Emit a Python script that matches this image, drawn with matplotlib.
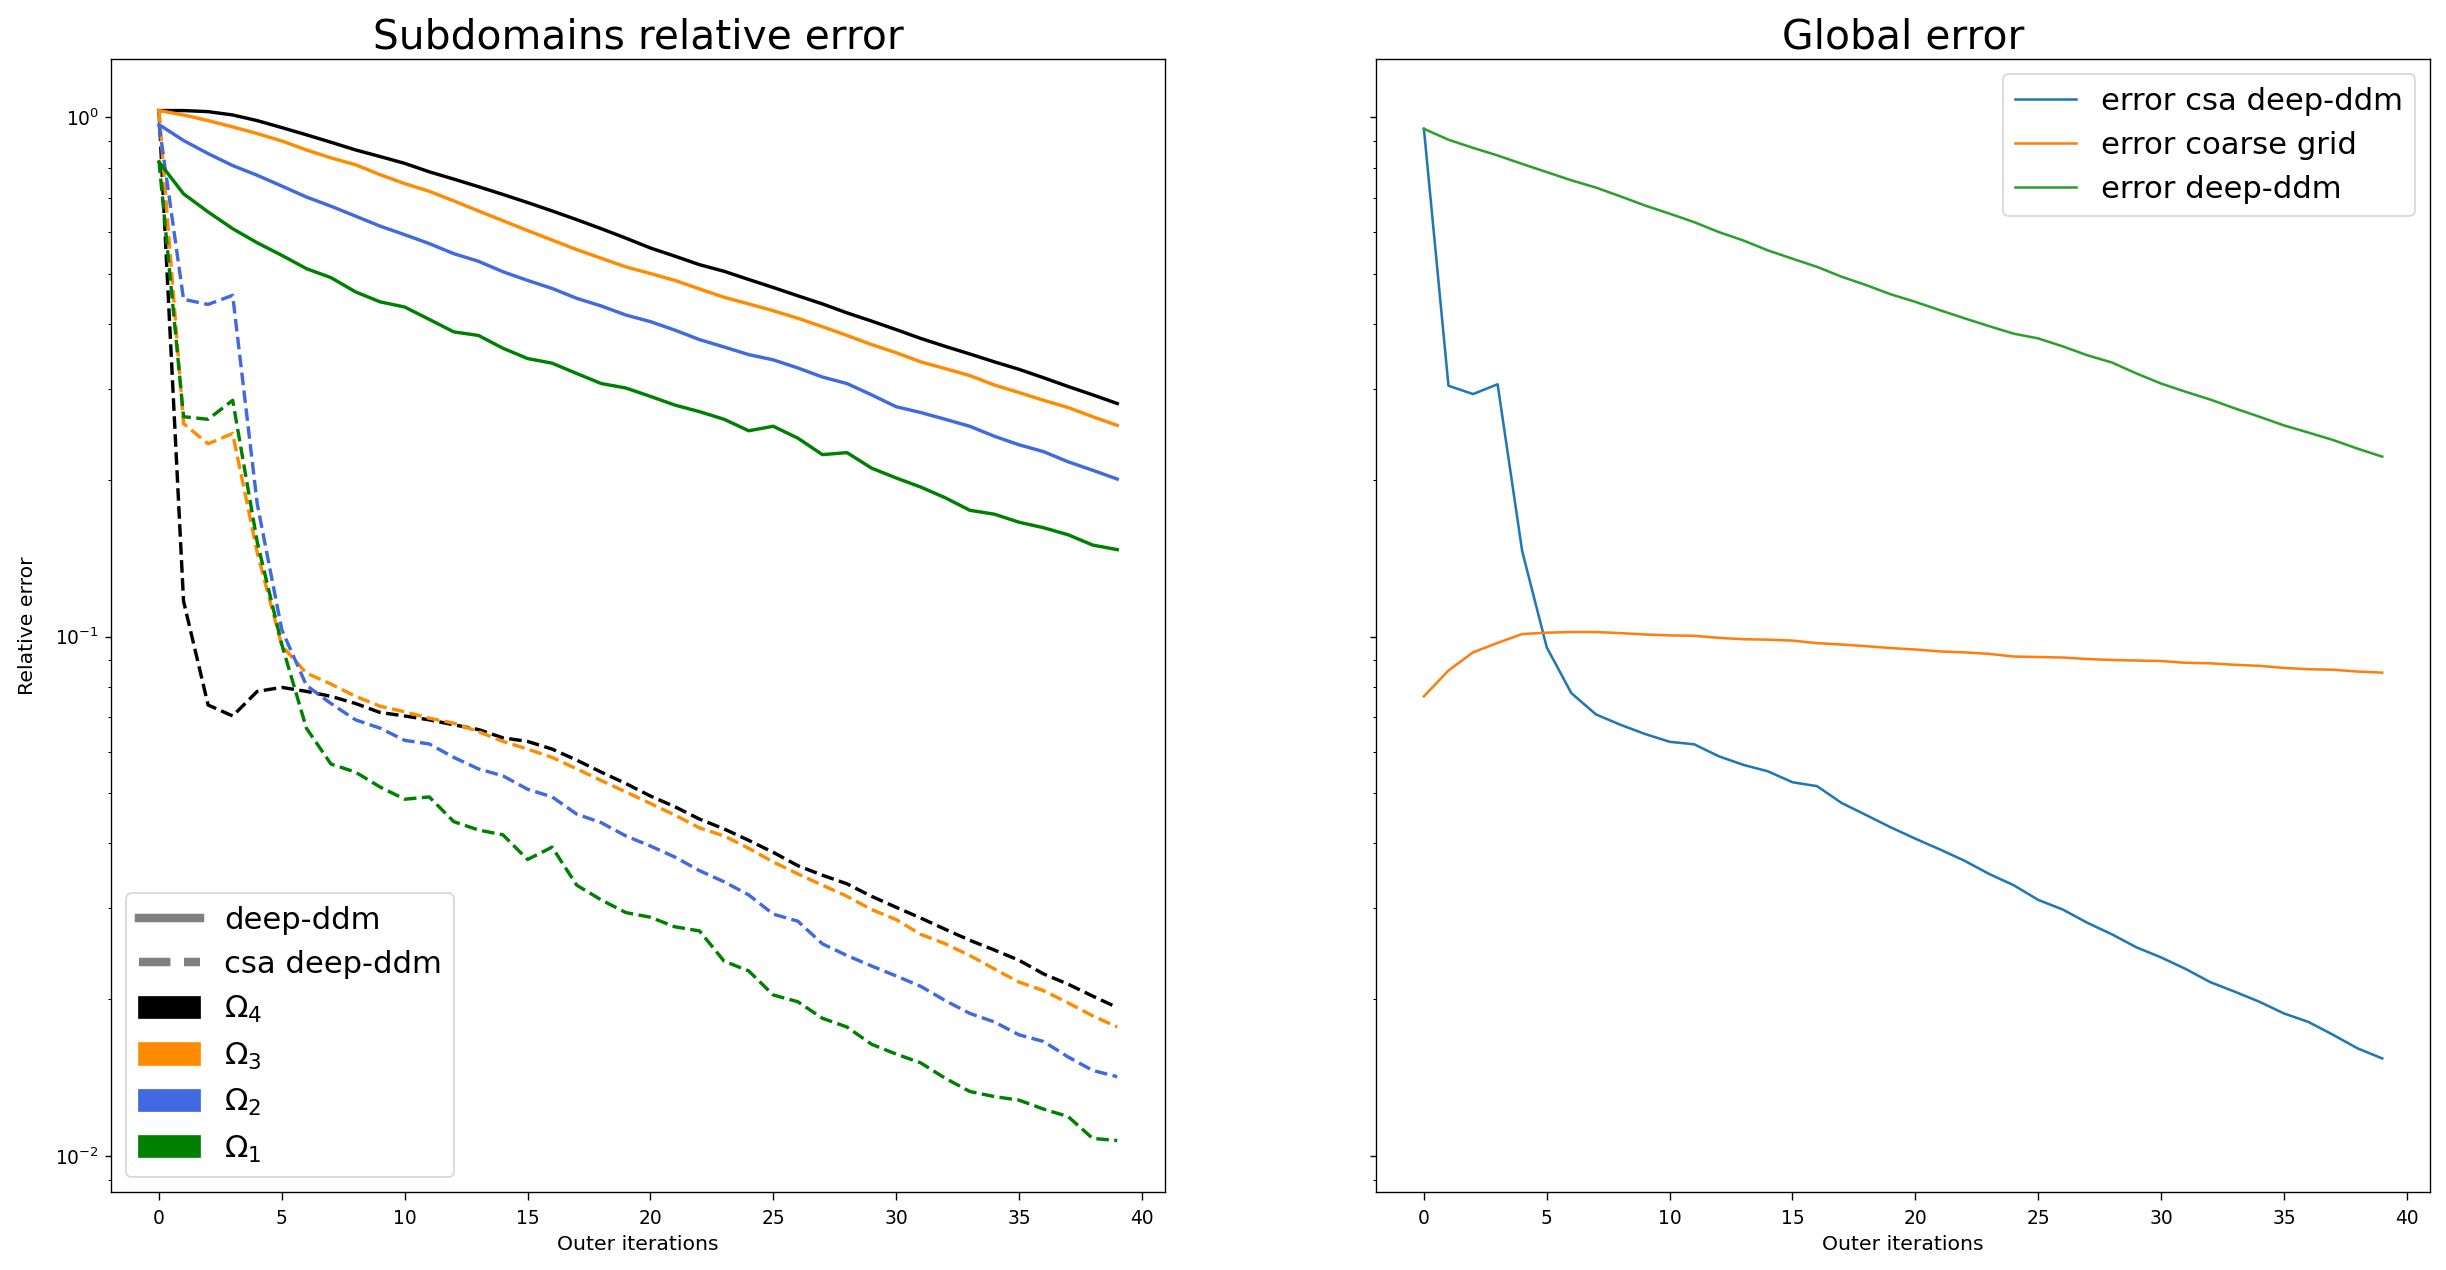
import numpy as np
import matplotlib
matplotlib.use('Agg')
import matplotlib.pyplot as plt
from matplotlib.lines import Line2D
from matplotlib.patches import Patch

iterations = np.arange(40)

# subdomain errors, deep-ddm (solid)
omega4_ddm = [1.03, 1.03, 1.025, 1.01, 0.985, 0.955, 0.925, 0.895, 0.865, 0.84,
              0.815, 0.785, 0.76, 0.735, 0.71, 0.685, 0.66, 0.635, 0.61, 0.585,
              0.56, 0.54, 0.52, 0.505, 0.487, 0.47, 0.453, 0.437, 0.42, 0.405,
              0.39, 0.375, 0.362, 0.35, 0.338, 0.327, 0.315, 0.303, 0.292, 0.281]
omega3_ddm = [1.03, 1.01, 0.985, 0.958, 0.93, 0.9, 0.865, 0.835, 0.81, 0.775,
              0.745, 0.72, 0.69, 0.66, 0.632, 0.605, 0.58, 0.556, 0.535, 0.515,
              0.5, 0.485, 0.467, 0.45, 0.437, 0.424, 0.41, 0.395, 0.38, 0.365,
              0.352, 0.338, 0.328, 0.318, 0.305, 0.295, 0.285, 0.276, 0.265, 0.255]
omega2_ddm = [0.968, 0.902, 0.851, 0.807, 0.773, 0.737, 0.702, 0.674, 0.645, 0.617,
              0.594, 0.571, 0.546, 0.528, 0.504, 0.485, 0.468, 0.448, 0.433, 0.416,
              0.404, 0.389, 0.373, 0.361, 0.349, 0.341, 0.329, 0.316, 0.307, 0.292,
              0.277, 0.270, 0.262, 0.254, 0.243, 0.234, 0.227, 0.217, 0.209, 0.201]
omega1_ddm = [0.82, 0.712, 0.657, 0.610, 0.573, 0.542, 0.511, 0.491, 0.461, 0.441,
              0.431, 0.408, 0.386, 0.380, 0.359, 0.343, 0.336, 0.321, 0.307, 0.301,
              0.290, 0.279, 0.271, 0.262, 0.249, 0.254, 0.241, 0.224, 0.226, 0.211,
              0.202, 0.194, 0.185, 0.175, 0.172, 0.166, 0.162, 0.157, 0.150, 0.147]

# subdomain errors, csa deep-ddm (dashed)
omega4_csa = [1.03, 0.117, 0.0738, 0.0703, 0.0784, 0.0798, 0.0784, 0.0767, 0.0743, 0.0714,
              0.0703, 0.0691, 0.0676, 0.0662, 0.0638, 0.0628, 0.0607, 0.0578, 0.0548, 0.0521,
              0.0493, 0.0470, 0.0445, 0.0426, 0.0405, 0.0384, 0.0362, 0.0347, 0.0334, 0.0316,
              0.0301, 0.0287, 0.0273, 0.0260, 0.0249, 0.0238, 0.0224, 0.0214, 0.0203, 0.0193]
omega3_csa = [1.03, 0.257, 0.235, 0.246, 0.145, 0.096, 0.085, 0.081, 0.0767, 0.0734,
              0.0716, 0.0696, 0.0681, 0.0656, 0.0628, 0.0607, 0.0585, 0.0556, 0.0528, 0.0502,
              0.0477, 0.0453, 0.0428, 0.0413, 0.0391, 0.0368, 0.0349, 0.0332, 0.0316, 0.0298,
              0.0285, 0.0267, 0.0256, 0.0243, 0.0229, 0.0216, 0.0208, 0.0197, 0.0186, 0.0177]
omega2_csa = [0.97, 0.446, 0.436, 0.454, 0.18, 0.103, 0.0805, 0.0743, 0.0691, 0.0666,
              0.0631, 0.0621, 0.0585, 0.0556, 0.0539, 0.0508, 0.0491, 0.0455, 0.0438, 0.0413,
              0.0395, 0.0376, 0.0354, 0.0337, 0.0318, 0.0292, 0.0283, 0.0256, 0.0243, 0.0232,
              0.0222, 0.0212, 0.0199, 0.0188, 0.0181, 0.0171, 0.0166, 0.0155, 0.0146, 0.0142]
omega1_csa = [0.825, 0.265, 0.262, 0.285, 0.152, 0.0965, 0.0666, 0.0568, 0.0548, 0.0513,
              0.0486, 0.0491, 0.0440, 0.0424, 0.0415, 0.0372, 0.0393, 0.0332, 0.0311, 0.0294,
              0.0288, 0.0276, 0.0271, 0.0237, 0.0227, 0.0204, 0.0198, 0.0184, 0.0177, 0.0164,
              0.0157, 0.0151, 0.0141, 0.0133, 0.0130, 0.0128, 0.0123, 0.0119, 0.0108, 0.0107]

# global errors
err_csa = [0.95, 0.304, 0.293, 0.306, 0.146, 0.0953, 0.0778, 0.0708, 0.0676, 0.0649,
           0.0627, 0.0620, 0.0588, 0.0566, 0.0550, 0.0524, 0.0515, 0.0478, 0.0453, 0.0429,
           0.0408, 0.0389, 0.0370, 0.0349, 0.0332, 0.0311, 0.0298, 0.0281, 0.0267, 0.0252,
           0.0241, 0.0229, 0.0216, 0.0207, 0.0198, 0.0188, 0.0181, 0.0171, 0.0161, 0.0154]
err_coarse = [0.0767, 0.0860, 0.0932, 0.0972, 0.1011, 0.1017, 0.1020, 0.1020, 0.1015, 0.1009,
              0.1005, 0.1003, 0.0994, 0.0988, 0.0986, 0.0982, 0.0971, 0.0965, 0.0958, 0.0950,
              0.0944, 0.0936, 0.0932, 0.0926, 0.0915, 0.0913, 0.0911, 0.0905, 0.0901, 0.0899,
              0.0897, 0.0890, 0.0888, 0.0882, 0.0878, 0.0870, 0.0865, 0.0863, 0.0856, 0.0852]
err_ddm = [0.950, 0.905, 0.873, 0.844, 0.813, 0.784, 0.756, 0.732, 0.704, 0.676,
           0.652, 0.628, 0.601, 0.579, 0.554, 0.534, 0.515, 0.493, 0.475, 0.456,
           0.441, 0.425, 0.410, 0.396, 0.383, 0.375, 0.362, 0.348, 0.337, 0.321,
           0.307, 0.296, 0.286, 0.275, 0.265, 0.255, 0.247, 0.239, 0.230, 0.222]

plt.rcParams['xtick.labelsize'] = 11
plt.rcParams['ytick.labelsize'] = 11
plt.rcParams['axes.labelsize'] = 12
plt.rcParams['xtick.major.size'] = 4.5
plt.rcParams['xtick.major.pad'] = 5.5

dpi = 122.3
fig, (ax1, ax2) = plt.subplots(1, 2, sharey=True,
                               figsize=(2446 / dpi, 1270 / dpi), dpi=dpi)
plt.subplots_adjust(left=0.0454, right=0.9935, bottom=0.0614, top=0.9535, wspace=0.2)

colors = ['black', 'darkorange', 'royalblue', 'green']
ddm = [omega4_ddm, omega3_ddm, omega2_ddm, omega1_ddm]
csa = [omega4_csa, omega3_csa, omega2_csa, omega1_csa]
for c, s, d in zip(colors, ddm, csa):
    ax1.plot(iterations, s, color=c, linewidth=2)
    ax1.plot(iterations, d, color=c, linewidth=2, linestyle='--')

ax1.set_yscale('log')
ax1.set_title('Subdomains relative error', fontsize=24)
ax1.set_xlabel('Outer iterations')
ax1.set_ylabel('Relative error', labelpad=11)

handles = [Line2D([0], [0], color='gray', linewidth=5, label='deep-ddm'),
           Line2D([0], [0], color='gray', linewidth=5, linestyle='--', label='csa deep-ddm')]
for c, k in zip(colors, [4, 3, 2, 1]):
    handles.append(Patch(color=c, label=r'$\Omega_%d$' % k))
ax1.legend(handles=handles, loc='lower left', fontsize=18)

ax2.plot(iterations, err_csa, label='error csa deep-ddm')
ax2.plot(iterations, err_coarse, label='error coarse grid')
ax2.plot(iterations, err_ddm, label='error deep-ddm')
ax2.set_title('Global error', fontsize=24)
ax2.set_xlabel('Outer iterations')
ax2.legend(loc='upper right', fontsize=18)

plt.savefig('out.png', dpi=dpi)
